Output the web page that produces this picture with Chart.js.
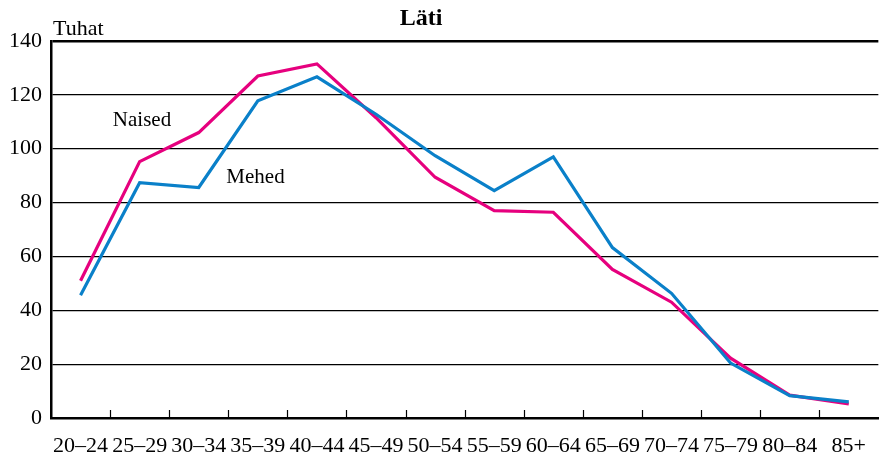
<!DOCTYPE html>
<html>
<head>
<meta charset="utf-8">
<script src="https://cdn.jsdelivr.net/npm/chart.js@4"></script>
<style>
html,body{margin:0;padding:0;background:#fff;}
#wrap{width:881px;height:463px;}
</style>
</head>
<body>
<div id="wrap"><canvas id="c" width="881" height="463"></canvas></div>
<script>
const categories = ["20–24","25–29","30–34","35–39","40–44","45–49","50–54","55–59","60–64","65–69","70–74","75–79","80–84","85+"];
const naised = [51, 95.2, 106, 127, 131.5, 111.5, 89.4, 77, 76.4, 55.2, 43, 22.2, 8.5, 5.2];
const mehed  = [45.6, 87.4, 85.6, 117.8, 126.7, 112.8, 97.4, 84.4, 97, 63.3, 46.3, 20.4, 8.3, 6];
const yTicks = [0, 20, 40, 60, 80, 100, 120, 140];
const titleText = "Läti";
const unitText = "Tuhat";
const seriesNames = ["Naised", "Mehed"];

const FONT = "'Liberation Serif', 'Times New Roman', serif";

const decor = {
  id: 'decor',
  afterDraw(chart) {
    const ctx = chart.ctx;
    const x = chart.scales.x, y = chart.scales.y;
    const a = chart.chartArea;
    ctx.save();
    // inner tick marks between categories
    ctx.strokeStyle = '#000';
    ctx.lineWidth = 1.2;
    for (let i = 1; i < categories.length; i++) {
      const px = Math.round((x.getPixelForValue(i - 1) + x.getPixelForValue(i)) / 2) + 0.5;
      ctx.beginPath();
      ctx.moveTo(px, a.bottom);
      ctx.lineTo(px, a.bottom - 8);
      ctx.stroke();
    }
    ctx.fillStyle = '#000';
    ctx.textBaseline = 'alphabetic';
    // title
    ctx.font = "bold 24px " + FONT;
    ctx.textAlign = 'center';
    ctx.fillText(titleText, chart.width * 0.478, 25);
    // unit
    ctx.font = "22px " + FONT;
    ctx.textAlign = 'left';
    ctx.fillText(unitText, a.left + 2, 35);
    // series labels
    ctx.font = "21px " + FONT;
    ctx.textAlign = 'center';
    ctx.fillText(seriesNames[0], x.getPixelForValue(1.04), y.getPixelForValue(108.5));
    ctx.fillText(seriesNames[1], x.getPixelForValue(2.96), y.getPixelForValue(87.4));
    ctx.restore();
  }
};

new Chart(document.getElementById('c'), {
  type: 'line',
  data: {
    labels: categories,
    datasets: [
      { label: seriesNames[1], data: mehed, borderColor: '#0a80c9', borderWidth: 3.2, pointRadius: 0, tension: 0, fill: false, borderJoinStyle: 'miter' },
      { label: seriesNames[0], data: naised, borderColor: '#e6007e', borderWidth: 3.2, pointRadius: 0, tension: 0, fill: false, borderJoinStyle: 'miter' }
    ]
  },
  options: {
    responsive: false,
    animation: false,
    devicePixelRatio: 1,
    layout: { padding: { top: 41, left: 0, right: 0, bottom: 0 } },
    plugins: { legend: { display: false }, title: { display: false }, tooltip: { enabled: false } },
    scales: {
      x: {
        type: 'category',
        offset: true,
        grid: { display: true, drawOnChartArea: false, drawTicks: false },
        border: { display: true, color: '#000', width: 2.5 },
        ticks: { color: '#000', font: { family: FONT, size: 22 }, padding: 15, maxRotation: 0, autoSkip: false },
        afterFit(s) { s.height = 45; }
      },
      y: {
        min: 0, max: 140,
        afterBuildTicks(s) { s.ticks = yTicks.map(v => ({ value: v })); },
        grid: {
          color: '#000',
          lineWidth: (c) => (c.tick && c.tick.value === 140 ? 2.5 : 1.2),
          drawTicks: false
        },
        border: { display: true, color: '#000', width: 2.5 },
        ticks: { color: '#000', font: { family: FONT, size: 22 }, padding: 9 },
        afterFit(s) { s.width = 51; }
      }
    }
  },
  plugins: [decor]
});
</script>
</body>
</html>
